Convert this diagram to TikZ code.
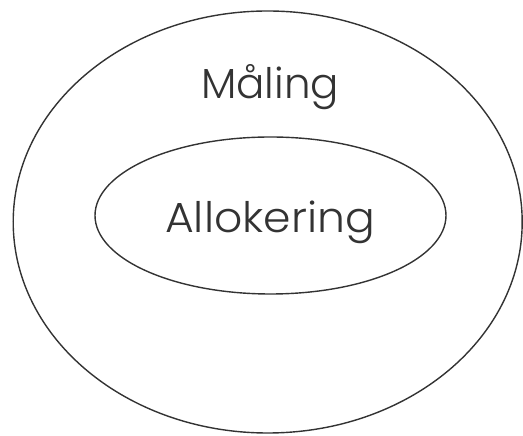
\documentclass[tikz,border=0pt]{standalone}
\usetikzlibrary{shapes.geometric}
\usepackage{fontspec}
\setmainfont{Poppins}[UprightFont=* Light]
\begin{document}
\begin{tikzpicture}[x=1pt,y=1pt,
  ring/.style={draw=black!80, line width=1.4pt},
  lbl/.style={text=black!80, font=\fontsize{42}{50}\selectfont, anchor=base, inner sep=0pt}]
\useasboundingbox (0,0) rectangle (523,436);
\node[ring, ellipse, minimum width=509pt, minimum height=422pt, inner sep=0pt] (outer) at (267.7,214) {};
\node[ring, ellipse, minimum width=351pt, minimum height=157pt, inner sep=0pt] (inner) at (270.5,220.5) {};
\node[lbl] (maling) at (270,337) {Måling};
\node[lbl, xscale=1.05] (allok) at (270,203) {Allokering};
\end{tikzpicture}
\end{document}
